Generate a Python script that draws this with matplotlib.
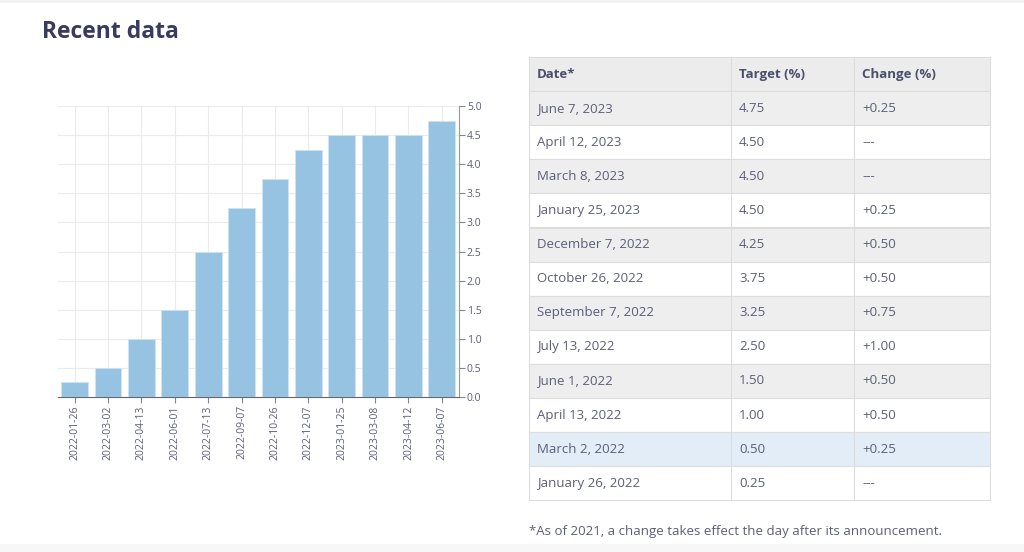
"""Recent data: policy target rate bars plus the announcement table."""
import matplotlib.pyplot as plt
import numpy as np
from matplotlib.patches import Rectangle

plt.rcParams["font.family"] = ["Open Sans", "DejaVu Sans"]

# bar chart data (oldest first)
bar_dates = ["2022-01-26", "2022-03-02", "2022-04-13", "2022-06-01", "2022-07-13",
             "2022-09-07", "2022-10-26", "2022-12-07", "2023-01-25", "2023-03-08",
             "2023-04-12", "2023-06-07"]
bar_rates = [0.25, 0.50, 1.00, 1.50, 2.50, 3.25, 3.75, 4.25, 4.50, 4.50, 4.50, 4.75]
y_ticks = [0.0, 0.5, 1.0, 1.5, 2.0, 2.5, 3.0, 3.5, 4.0, 4.5, 5.0]

# table data (newest first)
table_header = ["Date*", "Target (%)", "Change (%)"]
table_dates = ["June 7, 2023", "April 12, 2023", "March 8, 2023", "January 25, 2023",
               "December 7, 2022", "October 26, 2022", "September 7, 2022",
               "July 13, 2022", "June 1, 2022", "April 13, 2022", "March 2, 2022",
               "January 26, 2022"]
table_targets = ["4.75", "4.50", "4.50", "4.50", "4.25", "3.75", "3.25", "2.50",
                 "1.50", "1.00", "0.50", "0.25"]
table_changes = ["+0.25", "---", "---", "+0.25", "+0.50", "+0.50", "+0.75", "+1.00",
                 "+0.50", "+0.50", "+0.25", "---"]
highlight_row = 10  # March 2, 2022

footnote = "*As of 2021, a change takes effect the day after its announcement."

W, H = 1024, 552
TEXT = "#5b5e78"
DARK = "#383b5e"
BAR = "#95c3e1"

fig = plt.figure(figsize=(W / 100, H / 100), dpi=100)
fig.patch.set_facecolor("white")

# page layer in pixel coordinates
page = fig.add_axes([0, 0, 1, 1])
page.set_xlim(0, W)
page.set_ylim(H, 0)
page.axis("off")

page.add_patch(Rectangle((0, 0), W, 3, color="#f2f2f2", lw=0))
page.add_patch(Rectangle((0, 544), W, 8, color="#f7f7f7", lw=0))
page.text(42, 32, "Recent data", fontsize=16.5, fontweight="bold", color=DARK,
          va="center", ha="left")

# table
col_x = [529, 731, 854, 990]
top, row_h = 57, 34.1
n_rows = len(table_dates) + 1
for i in range(n_rows):
    y0 = top + i * row_h
    if i == 0:
        bg = "#ececec"
    elif i - 1 == highlight_row:
        bg = "#e3edf8"
    elif (i - 1) % 2 == 0:
        bg = "#eeeeee"
    else:
        bg = "white"
    page.add_patch(Rectangle((col_x[0], y0), col_x[-1] - col_x[0], row_h,
                             facecolor=bg, edgecolor="#dddddd", lw=0.8))
    if i == 0:
        cells = table_header
    else:
        cells = [table_dates[i - 1], table_targets[i - 1], table_changes[i - 1]]
    for j, txt in enumerate(cells):
        page.text(col_x[j] + 8, y0 + row_h / 2, txt, fontsize=9.5,
                  color="#4c4f6b" if i == 0 else TEXT,
                  fontweight="bold" if i == 0 else "normal",
                  va="center", ha="left")
for x in col_x[1:-1]:
    page.plot([x, x], [top, top + n_rows * row_h], color="#dddddd", lw=0.8)

page.text(529, 531, footnote, fontsize=9.5, color=TEXT, va="center", ha="left")

# bar chart
ax = fig.add_axes([58 / W, 1 - 397 / H, (458.5 - 58) / W, (397 - 106) / H])
x = np.arange(len(bar_dates))
ax.bar(x, bar_rates, width=0.8, color=BAR, edgecolor="#cfe3f1", lw=0.6, zorder=3)
ax.set_xlim(-0.5, len(bar_dates) - 0.5)
ax.set_ylim(0, 5.0)
ax.set_xticks(x)
ax.set_xticklabels(bar_dates, rotation=90, fontsize=7.5, color=TEXT)
ax.set_yticks(y_ticks)
ax.set_yticklabels([f"{v:.1f}" for v in y_ticks], fontsize=7.5, color=TEXT)
ax.yaxis.tick_right()
ax.tick_params(axis="y", length=4, color="#888888", pad=2)
ax.tick_params(axis="x", length=4, color="#888888", pad=2)
ax.grid(True, color="#ebebeb", lw=0.8, zorder=0)
for side in ["top", "left"]:
    ax.spines[side].set_visible(False)
ax.spines["bottom"].set_color("#666666")
ax.spines["right"].set_color("#999999")
ax.spines["right"].set_linewidth(0.8)

fig.savefig("out.png", dpi=100)
